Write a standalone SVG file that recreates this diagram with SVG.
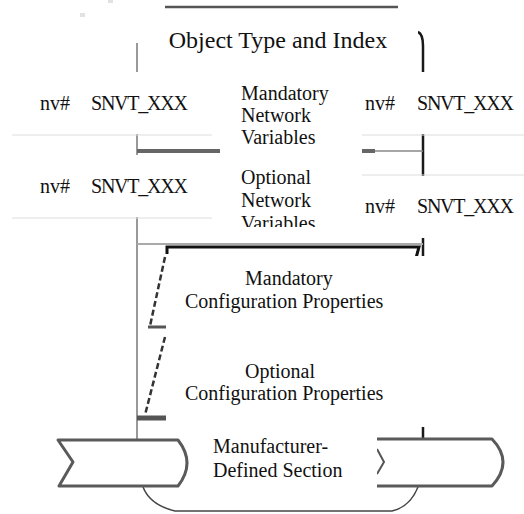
<svg xmlns="http://www.w3.org/2000/svg" width="524" height="514" viewBox="0 0 524 514">
<style>
  .box { fill: #ffffff; stroke: none; }
  .t { font-family: "Liberation Serif", "Times New Roman", serif; font-size: 20px; fill: #111111; }
  .title { font-size: 24px; }
  .edge { stroke: #dddddd; stroke-width: 1; fill: none; }
  .gray { stroke: #999999; stroke-width: 2; fill: none; }
  .thick { stroke: #666666; stroke-width: 4; fill: none; }
  .black { stroke: #1a1a1a; stroke-width: 2.5; fill: none; }
  .dash { stroke: #333333; stroke-width: 2.5; stroke-dasharray: 6 3; fill: none; }
  .tab { stroke: #5a5a5a; stroke-width: 3; fill: #ffffff; stroke-linejoin: round; }
  .wave { stroke: #444444; stroke-width: 1.5; fill: none; }
</style>
<defs>
  <clipPath id="clipNV">
    <rect x="220" y="72" width="142" height="155"/>
  </clipPath>
</defs>
<rect x="0" y="0" width="524" height="514" fill="#ffffff"/>
<rect x="80" y="13" width="5" height="4" fill="#e2e2e2"/>
<rect x="108" y="0" width="5" height="3" fill="#e2e2e2"/>

<g id="connectors">
  <line x1="165" y1="7" x2="398" y2="7" stroke="#555555" stroke-width="2.5"/>
  <line class="gray" x1="137" y1="43" x2="137" y2="440"/>
  <path class="black" d="M418,32 Q423,34 423,46 L423,439"/>
  <line class="thick" x1="137" y1="151" x2="375" y2="151"/>
  <line x1="375" y1="151" x2="423" y2="151" stroke="#888888" stroke-width="1.5"/>
  <line x1="137" y1="244" x2="423" y2="244" stroke="#aaaaaa" stroke-width="2"/>
  <path d="M167,254 L167,247 L419,247 L416,258" stroke="#111111" stroke-width="3" fill="none"/>
  <line class="dash" x1="165" y1="257" x2="150" y2="326"/>
  <line x1="148" y1="327" x2="166" y2="327" stroke="#555555" stroke-width="3"/>
  <line class="dash" x1="165" y1="337" x2="145" y2="415"/>
  <line x1="137" y1="418" x2="166" y2="418" stroke="#555555" stroke-width="5"/>
  <line class="edge" x1="12" y1="135" x2="212" y2="135"/>
  <line class="edge" x1="12" y1="218" x2="212" y2="218"/>
  <line class="edge" x1="362" y1="135" x2="524" y2="135"/>
  <line class="edge" x1="362" y1="175" x2="524" y2="175"/>
</g>

<g id="title">
  <rect class="box" x="139" y="12" width="279" height="60"/>
  <text class="t title" x="278" y="48" text-anchor="middle">Object Type and Index</text>
</g>

<g id="nv-mandatory-left">
  <rect class="box" x="0" y="72" width="212" height="62"/>
  <text class="t" x="40" y="110">nv#</text>
  <text class="t" x="91" y="110" textLength="97" lengthAdjust="spacing">SNVT_XXX</text>
</g>

<g id="nv-optional-left">
  <rect class="box" x="0" y="155" width="212" height="62"/>
  <text class="t" x="40" y="193">nv#</text>
  <text class="t" x="91" y="193" textLength="97" lengthAdjust="spacing">SNVT_XXX</text>
</g>

<g id="nv-labels">
  <rect class="box" x="220" y="72" width="142" height="155"/>
  <g clip-path="url(#clipNV)">
    <text class="t" x="241" y="100">Mandatory</text>
    <text class="t" x="241" y="122">Network</text>
    <text class="t" x="241" y="144">Variables</text>
    <text class="t" x="241" y="184">Optional</text>
    <text class="t" x="241" y="206.5">Network</text>
    <text class="t" x="241" y="230">Variables</text>
  </g>
</g>

<g id="nv-mandatory-right">
  <rect class="box" x="362" y="72" width="162" height="62"/>
  <text class="t" x="365" y="110">nv#</text>
  <text class="t" x="417" y="110" textLength="97" lengthAdjust="spacing">SNVT_XXX</text>
</g>

<g id="nv-optional-right">
  <rect class="box" x="362" y="176" width="162" height="62"/>
  <text class="t" x="365" y="213">nv#</text>
  <text class="t" x="417" y="213" textLength="97" lengthAdjust="spacing">SNVT_XXX</text>
</g>

<g id="config-properties">
  <rect class="box" x="167" y="256" width="263" height="171"/>
  <text class="t" x="245" y="285">Mandatory</text>
  <text class="t" x="185" y="308">Configuration Properties</text>
  <text class="t" x="245" y="378">Optional</text>
  <text class="t" x="185" y="400">Configuration Properties</text>
</g>

<g id="manufacturer-section">
  <path class="wave" d="M143,487 Q150,505 175,511 L392,511 Q410,507 418,487"/>
  <path class="tab" d="M58,440 L178,440 Q196,463 178,486 L59,486 L73,462 Z"/>
  <path class="tab" d="M377,439 L492,439 Q514,462 492,486 L377,486"/>
  <path d="M377,449 L384,462 L377,474" stroke="#555555" stroke-width="2" fill="none"/>
  <rect class="box" x="190" y="427" width="187" height="58"/>
  <text class="t" x="213" y="453">Manufacturer-</text>
  <text class="t" x="213" y="477">Defined Section</text>
</g>
</svg>
